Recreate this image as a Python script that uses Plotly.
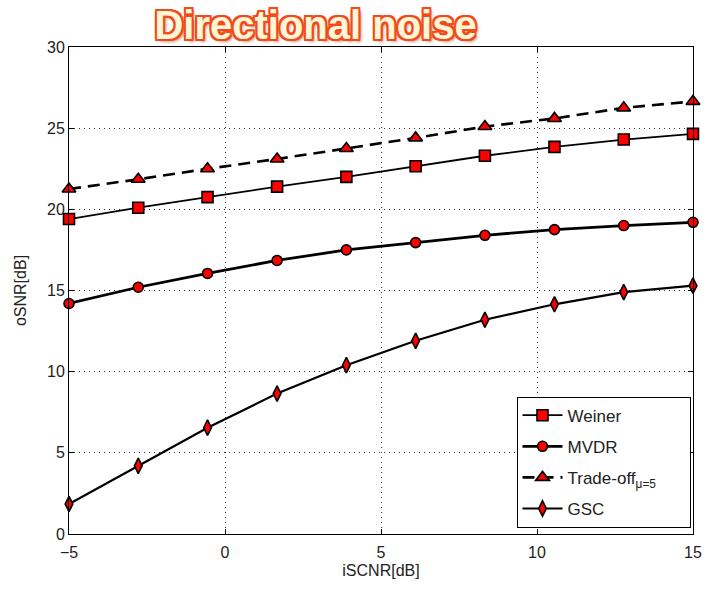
import plotly.graph_objects as go

# iSCNR sweep (dB) and output SNR of each beamformer (dB)
iscnr = [-5.0, -2.78, -0.56, 1.67, 3.89, 6.11, 8.33, 10.56, 12.78, 15.0]
weiner = [19.4, 20.1, 20.75, 21.4, 22.0, 22.65, 23.3, 23.85, 24.3, 24.65]
mvdr = [14.2, 15.2, 16.05, 16.85, 17.5, 17.95, 18.4, 18.75, 19.0, 19.2]
tradeoff = [21.25, 21.85, 22.5, 23.1, 23.75, 24.4, 25.1, 25.6, 26.25, 26.65]
gsc = [1.85, 4.2, 6.55, 8.65, 10.4, 11.9, 13.2, 14.15, 14.9, 15.3]

x_ticks = [-5, 0, 5, 10, 15]
y_ticks = [0, 5, 10, 15, 20, 25, 30]

RED = "#ff0000"
font_family = "Liberation Sans, Arial, sans-serif"
OUTLINE = "#f24a1c"

series = [
    ("Weiner", weiner, "square", 11, "solid", 1.8),
    ("MVDR", mvdr, "circle", 10, "solid", 2.8),
    ("Trade-off<sub>μ=5</sub>&nbsp;&nbsp;&nbsp;&nbsp;&nbsp;&nbsp;", tradeoff,
     "triangle-up", 12, "dash", 2.6),
    ("GSC", gsc, "diamond-tall", 11, "solid", 2.2),
]

fig = go.Figure()
for name, vals, symbol, size, dash, width in series:
    fig.add_trace(go.Scatter(
        x=iscnr, y=vals, name=name, legendgroup=name,
        mode="lines+markers",
        line=dict(color="black", width=width,
                  dash="12px,7px" if dash == "dash" else dash),
        marker=dict(symbol=symbol, size=size, color=RED,
                    line=dict(color="black", width=1.6)),
        cliponaxis=False,
    ))

axis_common = dict(
    showline=True, linecolor="black", linewidth=1, mirror="ticks",
    ticks="inside", ticklen=5, tickcolor="black",
    showgrid=True, gridcolor="#333", griddash="1px,4px", gridwidth=1.2,
    zeroline=False,
    tickfont=dict(family=font_family, size=16, color="#222"),
)

shadow = ", ".join(f"{dx}px {dy}px 0 {OUTLINE}"
                   for dx, dy in [(2, 0), (-2, 0), (0, 2), (0, -2),
                                  (2, 2), (-2, -2), (2, -2), (-2, 2)])
shadow += ", 3px 3px 3px #c9a08a"

fig.update_layout(
    width=714, height=593,
    margin=dict(l=69, r=16, t=47, b=59),
    paper_bgcolor="white", plot_bgcolor="white",
    title=dict(
        text="<b>Directional noise</b>",
        x=0.442, xref="container", xanchor="center",
        y=1 - 25 / 593, yref="container", yanchor="middle",
        font=dict(family=font_family, size=40, color="#fff6d6", shadow=shadow),
    ),
    xaxis=dict(range=[-5, 15], tickvals=x_ticks, ticklabelstandoff=4,
               **axis_common,
               title=dict(text="iSCNR[dB]", standoff=4,
                          font=dict(family=font_family, size=16, color="#222"))),
    yaxis=dict(range=[0, 30], tickvals=y_ticks, **axis_common,
               title=dict(text="oSNR[dB]", standoff=16,
                          font=dict(family=font_family, size=16, color="#222"))),
    legend=dict(
        x=0.996, y=0.013, xanchor="right", yanchor="bottom",
        bgcolor="white", bordercolor="black", borderwidth=1,
        font=dict(family=font_family, size=17, color="#222"),
        tracegroupgap=6, itemwidth=40,
    ),
    showlegend=True,
)

fig.write_html("out.html")
